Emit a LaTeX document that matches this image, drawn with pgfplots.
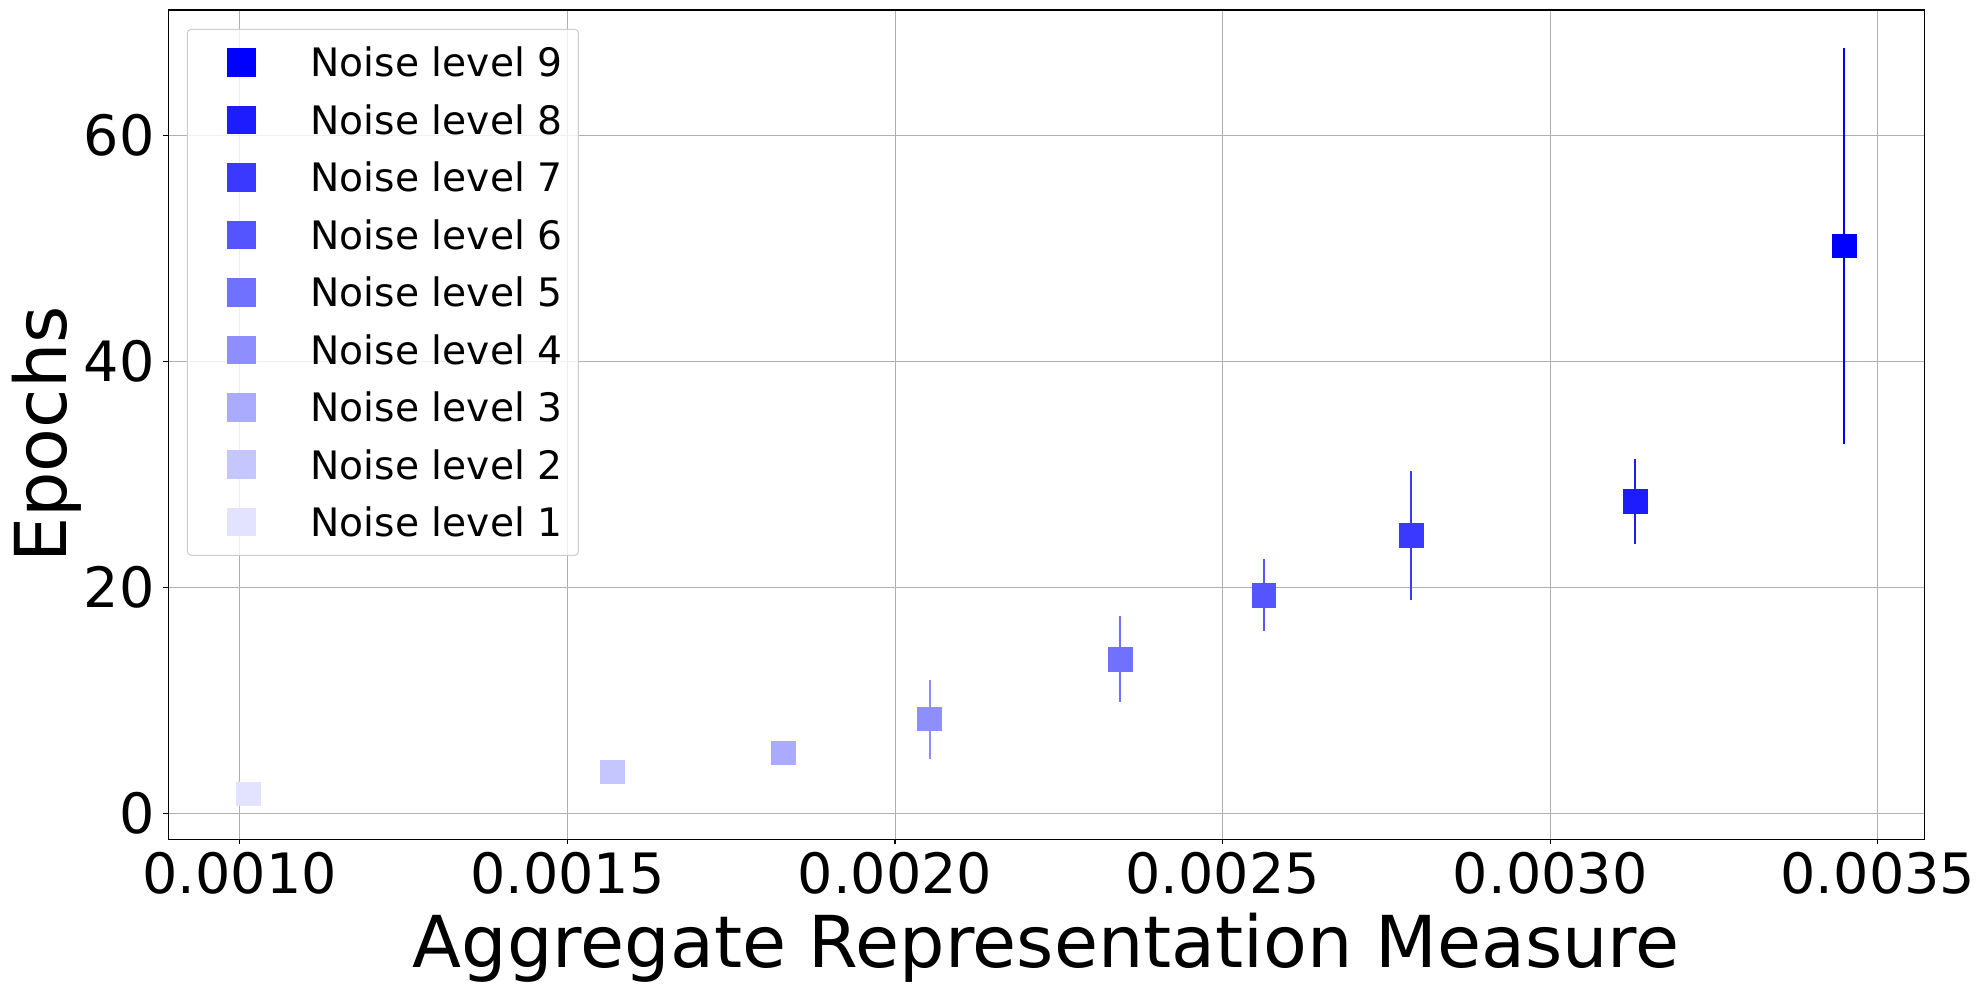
\documentclass[border=0pt]{standalone}
\usepackage{pgfplots}
\pgfplotsset{compat=1.18}
\usepackage{fontspec}
\setmainfont{DejaVu Sans}

\begin{document}
\begin{tikzpicture}
\begin{axis}[
    name=ax,
    scale only axis,
    width=439pt, height=207.3pt,
    xmin=0.000891, xmax=0.003571,
    ymin=-2.3, ymax=71.1,
    xtick={0.001,0.0015,0.002,0.0025,0.003,0.0035},
    ytick={0,20,40,60},
    scaled x ticks=false,
    /pgf/number format/assume math mode=true,
    xticklabel style={/pgf/number format/.cd, fixed, fixed zerofill, precision=4, /tikz/.cd,
        inner sep=0pt, yshift=-1.9pt},
    yticklabel style={inner sep=0pt, xshift=-2pt},
    ticklabel style={font=\fontsize{13.9}{16}\selectfont},
    tick align=outside,
    xtick pos=bottom, ytick pos=left,
    major tick length=1.25pt,
    tick style={black, line width=0.28pt},
    axis line style={line width=0.28pt},
    grid=major,
    grid style={color=black!31, line width=0.25pt},
    xlabel={Aggregate Representation Measure},
    ylabel={Epochs},
    label style={font=\fontsize{17.9}{20}\selectfont, inner sep=0pt},
    xlabel style={at={(axis description cs:0.5,0)}, anchor=base, yshift=-32pt},
    ylabel style={at={(axis description cs:0,0.5)}, anchor=base, yshift=25.4pt, xshift=-2.5pt},
    reverse legend,
    legend cell align=left,
    legend style={at={(axis description cs:0,1)}, anchor=north west,
        xshift=4.6pt, yshift=-4.7pt,
        font=\fontsize{9.8}{11}\selectfont,
        draw=black!20, line width=0.25pt, rounded corners=1pt,
        fill=white, fill opacity=0.8, text opacity=1, draw opacity=1,
        inner xsep=4pt, inner ysep=4.7pt,
        row sep=7.23pt,
        nodes={inner sep=0pt, text height=7.14pt, text depth=0pt},
        /tikz/every odd column/.style={column sep=13.9pt}},
    legend image code/.code={
        \path[draw=none, fill=none] (-9.5pt,0pt) -- (0pt,0pt);
        \draw[#1, only marks, mark size=3.44pt, fill opacity=1, draw opacity=1] plot coordinates {(0pt,0pt)};
    },
    every axis plot/.append style={only marks, mark=square*, mark size=2.88pt},
    error bars/y dir=both,
    error bars/y explicit,
    error bars/error mark=none,
    error bars/error bar style={line width=0.5pt},
]
\addplot[color=blue!11.1] coordinates {(0.001013,1.71) +- (0,0.3)};
\addlegendentry{Noise level 1}
\addplot[color=blue!22.2] coordinates {(0.001569,3.65) +- (0,0.3)};
\addlegendentry{Noise level 2}
\addplot[color=blue!33.3] coordinates {(0.001830,5.32) +- (0,0.3)};
\addlegendentry{Noise level 3}
\addplot[color=blue!44.4] coordinates {(0.002053,8.33) +- (0,3.5)};
\addlegendentry{Noise level 4}
\addplot[color=blue!55.6] coordinates {(0.002344,13.63) +- (0,3.8)};
\addlegendentry{Noise level 5}
\addplot[color=blue!66.7] coordinates {(0.002563,19.29) +- (0,3.17)};
\addlegendentry{Noise level 6}
\addplot[color=blue!77.8] coordinates {(0.002788,24.6) +- (0,5.7)};
\addlegendentry{Noise level 7}
\addplot[color=blue!88.9] coordinates {(0.003130,27.6) +- (0,3.75)};
\addlegendentry{Noise level 8}
\addplot[color=blue] coordinates {(0.003449,50.2) +- (0,17.5)};
\addlegendentry{Noise level 9}
\end{axis}
\path ([xshift=-42.1pt,yshift=-37.4pt]ax.south west) rectangle ([xshift=14.9pt,yshift=2.5pt]ax.north east);
\end{tikzpicture}
\end{document}
